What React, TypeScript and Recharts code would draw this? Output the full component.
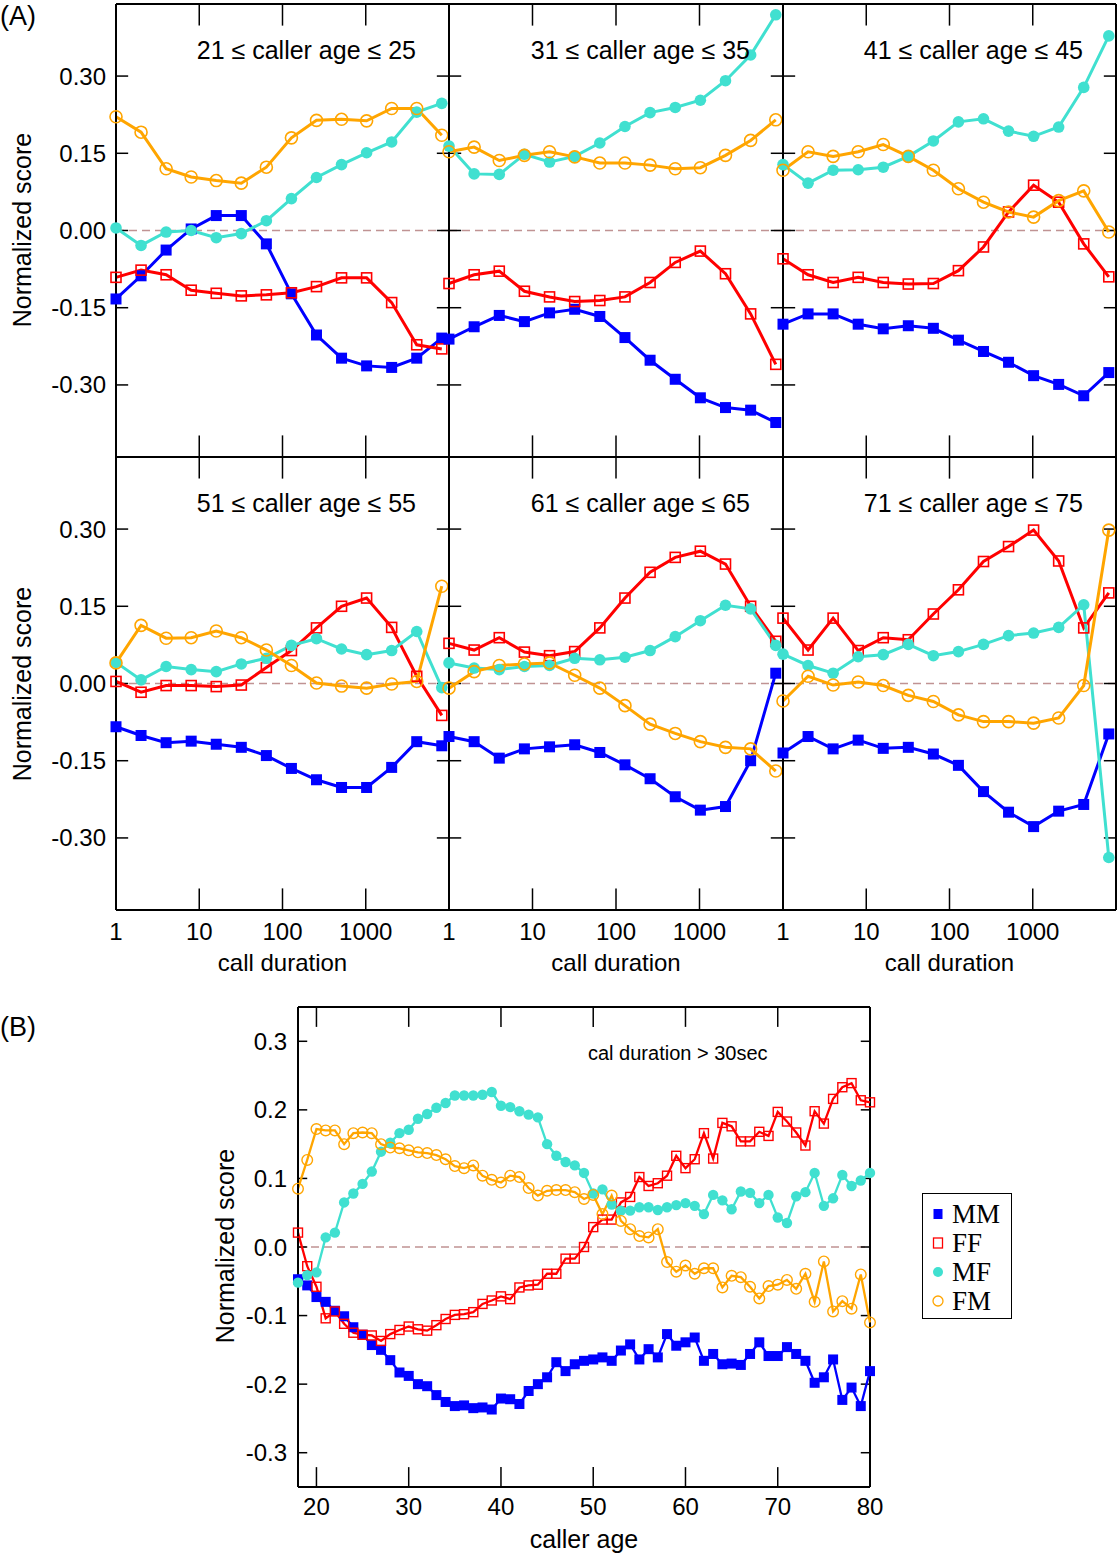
import React from 'react';
import { LineChart, Line, XAxis, YAxis, ReferenceLine } from 'recharts';

// call durations (seconds), log-spaced bins
const durations = [1, 2, 4, 8, 16, 32, 64, 128, 256, 512, 1024, 2048, 4096, 8192];

// 21 <= age <= 25
const mm21 = [-0.133, -0.088, -0.038, 0.003, 0.029, 0.029, -0.026, -0.123, -0.203, -0.248, -0.263, -0.266, -0.248, -0.209];
const ff21 = [-0.091, -0.077, -0.086, -0.116, -0.122, -0.127, -0.125, -0.121, -0.109, -0.092, -0.092, -0.14, -0.222, -0.23];
const mf21 = [0.005, -0.029, -0.003, 0.0, -0.014, -0.006, 0.019, 0.062, 0.103, 0.128, 0.151, 0.172, 0.23, 0.247];
const fm21 = [0.221, 0.191, 0.12, 0.104, 0.097, 0.092, 0.123, 0.18, 0.214, 0.216, 0.213, 0.237, 0.237, 0.185];

// 31 <= age <= 35
const mm31 = [-0.211, -0.187, -0.165, -0.177, -0.16, -0.153, -0.167, -0.208, -0.252, -0.289, -0.325, -0.344, -0.349, -0.373];
const ff31 = [-0.103, -0.086, -0.079, -0.118, -0.129, -0.138, -0.136, -0.129, -0.101, -0.062, -0.04, -0.084, -0.162, -0.26];
const mf31 = [0.164, 0.11, 0.109, 0.148, 0.133, 0.144, 0.17, 0.202, 0.229, 0.239, 0.253, 0.291, 0.341, 0.419];
const fm31 = [0.153, 0.162, 0.136, 0.146, 0.153, 0.143, 0.131, 0.131, 0.127, 0.12, 0.122, 0.146, 0.175, 0.215];

// 41 <= age <= 45
const mm41 = [-0.182, -0.162, -0.162, -0.182, -0.191, -0.185, -0.19, -0.213, -0.235, -0.256, -0.282, -0.299, -0.321, -0.276];
const ff41 = [-0.055, -0.086, -0.101, -0.091, -0.101, -0.104, -0.103, -0.078, -0.032, 0.036, 0.088, 0.055, -0.026, -0.09];
const mf41 = [0.128, 0.092, 0.117, 0.118, 0.123, 0.144, 0.174, 0.211, 0.217, 0.193, 0.183, 0.201, 0.278, 0.378];
const fm41 = [0.117, 0.153, 0.144, 0.153, 0.167, 0.144, 0.117, 0.081, 0.055, 0.036, 0.026, 0.058, 0.077, -0.003];

// 51 <= age <= 55
const mm51 = [-0.084, -0.101, -0.115, -0.112, -0.118, -0.124, -0.14, -0.165, -0.187, -0.202, -0.202, -0.163, -0.113, -0.121];
const ff51 = [0.004, -0.017, -0.004, -0.004, -0.006, -0.003, 0.031, 0.064, 0.108, 0.15, 0.166, 0.109, 0.014, -0.062];
const mf51 = [0.041, 0.007, 0.033, 0.027, 0.023, 0.038, 0.049, 0.074, 0.087, 0.067, 0.056, 0.064, 0.101, -0.008];
const fm51 = [0.04, 0.113, 0.088, 0.089, 0.102, 0.089, 0.065, 0.035, 0.001, -0.005, -0.009, -0.001, 0.004, 0.189];

// 61 <= age <= 65
const mm61 = [-0.103, -0.113, -0.145, -0.127, -0.123, -0.119, -0.134, -0.158, -0.185, -0.22, -0.246, -0.239, -0.15, 0.02];
const ff61 = [0.078, 0.065, 0.089, 0.061, 0.054, 0.062, 0.108, 0.166, 0.216, 0.245, 0.257, 0.232, 0.15, 0.082];
const mf61 = [0.04, 0.03, 0.027, 0.033, 0.035, 0.049, 0.046, 0.051, 0.064, 0.091, 0.122, 0.152, 0.145, 0.074];
const fm61 = [-0.009, 0.023, 0.035, 0.038, 0.04, 0.016, -0.009, -0.043, -0.079, -0.097, -0.113, -0.124, -0.127, -0.17];

// 71 <= age <= 75
const mm71 = [-0.135, -0.103, -0.127, -0.11, -0.126, -0.124, -0.137, -0.159, -0.21, -0.25, -0.278, -0.248, -0.235, -0.098];
const ff71 = [0.127, 0.065, 0.127, 0.064, 0.089, 0.085, 0.135, 0.182, 0.237, 0.266, 0.298, 0.238, 0.108, 0.176];
const mf71 = [0.057, 0.035, 0.02, 0.052, 0.056, 0.076, 0.054, 0.062, 0.076, 0.093, 0.098, 0.109, 0.153, -0.338];
const fm71 = [-0.034, 0.014, -0.003, 0.003, -0.004, -0.023, -0.035, -0.061, -0.074, -0.074, -0.077, -0.067, -0.004, 0.298];

// panel B: caller age 18..80, call duration > 30 sec
const ages = [18, 19, 20, 21, 22, 23, 24, 25, 26, 27, 28, 29, 30, 31, 32, 33, 34, 35, 36, 37, 38, 39, 40,
  41, 42, 43, 44, 45, 46, 47, 48, 49, 50, 51, 52, 53, 54, 55, 56, 57, 58, 59, 60,
  61, 62, 63, 64, 65, 66, 67, 68, 69, 70, 71, 72, 73, 74, 75, 76, 77, 78, 79, 80];
const mmAge = [-0.047, -0.056, -0.073, -0.08, -0.093, -0.101, -0.117, -0.128, -0.143, -0.15, -0.165, -0.183, -0.188, -0.2, -0.203, -0.216, -0.226, -0.232, -0.231, -0.235, -0.234, -0.237, -0.221,
  -0.222, -0.229, -0.21, -0.2, -0.19, -0.168, -0.181, -0.171, -0.166, -0.164, -0.161, -0.166, -0.151, -0.142, -0.164, -0.149, -0.161, -0.127, -0.144, -0.139,
  -0.132, -0.166, -0.156, -0.171, -0.17, -0.172, -0.156, -0.139, -0.159, -0.159, -0.146, -0.156, -0.166, -0.198, -0.19, -0.164, -0.223, -0.205, -0.232, -0.181];
const ffAge = [0.021, -0.028, -0.058, -0.104, -0.094, -0.112, -0.125, -0.128, -0.129, -0.137, -0.127, -0.121, -0.116, -0.12, -0.122, -0.114, -0.105, -0.099, -0.098, -0.095, -0.083, -0.078, -0.072,
  -0.076, -0.059, -0.056, -0.055, -0.039, -0.039, -0.017, -0.017, 0.0, 0.029, 0.04, 0.04, 0.065, 0.073, 0.102, 0.089, 0.093, 0.104, 0.133, 0.115,
  0.128, 0.166, 0.129, 0.181, 0.176, 0.154, 0.154, 0.168, 0.162, 0.197, 0.183, 0.167, 0.148, 0.198, 0.18, 0.216, 0.233, 0.239, 0.214, 0.211];
const mfAge = [-0.052, -0.041, -0.037, 0.014, 0.021, 0.065, 0.078, 0.092, 0.11, 0.139, 0.152, 0.166, 0.171, 0.187, 0.194, 0.203, 0.21, 0.221, 0.221, 0.221, 0.222, 0.226, 0.206,
  0.204, 0.198, 0.193, 0.189, 0.15, 0.133, 0.124, 0.119, 0.108, 0.078, 0.084, 0.062, 0.053, 0.053, 0.058, 0.058, 0.054, 0.058, 0.061, 0.064,
  0.06, 0.048, 0.076, 0.068, 0.055, 0.081, 0.079, 0.064, 0.076, 0.043, 0.035, 0.074, 0.08, 0.108, 0.06, 0.071, 0.105, 0.089, 0.097, 0.108];
const fmAge = [0.085, 0.127, 0.172, 0.17, 0.17, 0.15, 0.166, 0.167, 0.166, 0.15, 0.145, 0.144, 0.141, 0.138, 0.137, 0.134, 0.128, 0.118, 0.115, 0.119, 0.104, 0.098, 0.094,
  0.104, 0.102, 0.086, 0.075, 0.082, 0.083, 0.083, 0.08, 0.07, 0.076, 0.048, 0.075, 0.038, 0.026, 0.016, 0.014, 0.026, -0.022, -0.036, -0.027,
  -0.039, -0.031, -0.031, -0.059, -0.042, -0.044, -0.058, -0.075, -0.057, -0.055, -0.048, -0.061, -0.039, -0.08, -0.021, -0.094, -0.079, -0.09, -0.04, -0.11];

const durationTicks = [1, 10, 100, 1000];
const innerDurationTicks = [10, 100, 1000];
const scoreTicks = [-0.3, -0.15, 0, 0.15, 0.3];
const ageTicks = [20, 30, 40, 50, 60, 70, 80];
const innerAgeTicks = [20, 30, 40, 50, 60, 70];
const ageScoreTicks = [-0.3, -0.2, -0.1, 0, 0.1, 0.2, 0.3];

const BLUE = '#0000ff';
const RED = '#ff0000';
const TURQ = '#40e0d0';
const ORANGE = '#ffa500';
const ZERO = '#c09393';
const FONT = "'Liberation Sans', Arial, Helvetica, sans-serif";

type DotProps = { cx?: number; cy?: number; index?: number };

const squareDot = (size: number, fill: string, stroke: string, sw: number) => (p: DotProps) => {
  if (p.cx == null || p.cy == null) return <g key={`s${p.index}`} />;
  return (
    <rect key={`s${p.index}`} x={p.cx - size / 2} y={p.cy - size / 2} width={size} height={size}
      fill={fill} stroke={stroke} strokeWidth={sw} />
  );
};

const circleDot = (r: number, fill: string, stroke: string, sw: number) => (p: DotProps) => {
  if (p.cx == null || p.cy == null) return <g key={`c${p.index}`} />;
  return <circle key={`c${p.index}`} cx={p.cx} cy={p.cy} r={r} fill={fill} stroke={stroke} strokeWidth={sw} />;
};

// tick label only (tick marks are drawn inward with reference segments)
const tickText = (side: 'left' | 'bottom', fmt: ((v: number) => string) | null) => (p: any) => {
  const { x, y, payload, index } = p;
  if (!fmt) return <g key={`t${index}`} />;
  return (
    <text key={`t${index}`} x={x} y={y} dy={side === 'bottom' ? '0.71em' : '0.355em'}
      textAnchor={side === 'left' ? 'end' : 'middle'} fontSize={24} fontFamily={FONT} fill="#000">
      {fmt(payload.value)}
    </text>
  );
};

const axisLine = { stroke: '#000', strokeWidth: 2 };
const fmt2 = (v: number) => v.toFixed(2);
const fmt1 = (v: number) => v.toFixed(1);
const fmtInt = (v: number) => String(v);

// frame (top + right) and inward tick marks on all four sides
type Frame = {
  x0: number; x1: number; y0: number; y1: number;
  xTicks: number[]; yTicks: number[];
  xLen: number; // vertical tick length in y units
  yLen: (x: number, fromRight: boolean) => number; // end x of a horizontal tick
};
function frameMarks(f: Frame) {
  const k = { stroke: '#000', strokeWidth: 1.5, ifOverflow: 'visible' as const };
  const out: React.ReactNode[] = [
    <ReferenceLine key="ftop" y={f.y1} stroke="#000" strokeWidth={2} ifOverflow="visible" />,
    <ReferenceLine key="fright" x={f.x1} stroke="#000" strokeWidth={2} ifOverflow="visible" />,
  ];
  f.xTicks.forEach((t) => {
    out.push(<ReferenceLine key={`b${t}`} {...k} segment={[{ x: t, y: f.y0 }, { x: t, y: f.y0 + f.xLen }]} />);
    out.push(<ReferenceLine key={`t${t}`} {...k} segment={[{ x: t, y: f.y1 }, { x: t, y: f.y1 - f.xLen }]} />);
  });
  f.yTicks.forEach((t) => {
    out.push(<ReferenceLine key={`l${t}`} {...k} segment={[{ x: f.x0, y: t }, { x: f.yLen(f.x0, false), y: t }]} />);
    out.push(<ReferenceLine key={`r${t}`} {...k} segment={[{ x: f.x1, y: t }, { x: f.yLen(f.x1, true), y: t }]} />);
  });
  return out;
}

const panels = [
  { row: 0, col: 0, lo: 21, hi: 25, mm: mm21, ff: ff21, mf: mf21, fm: fm21 },
  { row: 0, col: 1, lo: 31, hi: 35, mm: mm31, ff: ff31, mf: mf31, fm: fm31 },
  { row: 0, col: 2, lo: 41, hi: 45, mm: mm41, ff: ff41, mf: mf41, fm: fm41 },
  { row: 1, col: 0, lo: 51, hi: 55, mm: mm51, ff: ff51, mf: mf51, fm: fm51 },
  { row: 1, col: 1, lo: 61, hi: 65, mm: mm61, ff: ff61, mf: mf61, fm: fm61 },
  { row: 1, col: 2, lo: 71, hi: 75, mm: mm71, ff: ff71, mf: mf71, fm: fm71 },
];

const plotLefts = [116, 449, 783];
const plotWidths = [333, 334, 333];
const plotTops = [4, 457];
const PLOT_H = 453;

const durationFrame: Frame = {
  x0: 1, x1: 10000, y0: -0.44, y1: 0.44,
  xTicks: innerDurationTicks, yTicks: scoreTicks,
  xLen: 0.042,
  yLen: (x, fromRight) => (fromRight ? x / 1.4 : x * 1.4),
};

const ageFrame: Frame = {
  x0: 18, x1: 80, y0: -0.35, y1: 0.35,
  xTicks: innerAgeTicks, yTicks: ageScoreTicks,
  xLen: 0.029,
  yLen: (x, fromRight) => (fromRight ? x - 1 : x + 1),
};

function DurationPanel({ row, col, lo, hi, mm, ff, mf, fm }: any) {
  const yw = col === 0 ? 116 : 40;
  const xh = row === 1 ? 60 : 2;
  const pw = plotWidths[col];
  const width = yw + pw + 3;
  const height = 4 + PLOT_H + xh;
  const data = durations.map((d, i) => ({ d, mm: mm[i], ff: ff[i], mf: mf[i], fm: fm[i] }));
  return (
    <div style={{ position: 'absolute', left: plotLefts[col] - yw, top: plotTops[row] - 4, width, height }}>
      <LineChart width={width} height={height} data={data} margin={{ top: 4, right: 3, left: 0, bottom: 0 }}>
        <XAxis dataKey="d" type="number" scale="log" domain={[1, 10000]} ticks={durationTicks}
          height={xh} tickSize={0} tickMargin={13} tickLine={false} axisLine={axisLine}
          tick={tickText('bottom', row === 1 ? fmtInt : null)} />
        <YAxis type="number" domain={[-0.44, 0.44]} ticks={scoreTicks} width={yw} tickSize={0} tickMargin={10}
          tickLine={false} axisLine={axisLine} tick={tickText('left', col === 0 ? fmt2 : null)} />
        <ReferenceLine y={0} stroke={ZERO} strokeWidth={1.5} strokeDasharray="8 5" />
        {frameMarks(durationFrame)}
        <Line dataKey="mm" stroke={BLUE} strokeWidth={3} dot={squareDot(11, BLUE, 'none', 0)} activeDot={false} isAnimationActive={false} />
        <Line dataKey="ff" stroke={RED} strokeWidth={3} dot={squareDot(10, 'none', RED, 1.6)} activeDot={false} isAnimationActive={false} />
        <Line dataKey="mf" stroke={TURQ} strokeWidth={3} dot={circleDot(5.8, TURQ, 'none', 0)} activeDot={false} isAnimationActive={false} />
        <Line dataKey="fm" stroke={ORANGE} strokeWidth={3} dot={circleDot(6, 'none', ORANGE, 1.6)} activeDot={false} isAnimationActive={false} />
      </LineChart>
      <div style={{ position: 'absolute', right: width - (yw + pw - 33), top: 38, fontFamily: FONT, fontSize: 25,
        lineHeight: '25px', whiteSpace: 'nowrap', color: '#000' }}>
        {lo} ≤ caller age ≤ {hi}
      </div>
      {row === 1 && (
        <div style={{ position: 'absolute', left: yw, width: pw, top: 498, textAlign: 'center', fontFamily: FONT,
          fontSize: 24, lineHeight: '24px', color: '#000' }}>
          call duration
        </div>
      )}
    </div>
  );
}

function VLabel({ cx, cy, text }: { cx: number; cy: number; text: string }) {
  return (
    <div style={{ position: 'absolute', left: cx - 130, top: cy - 13, width: 260, textAlign: 'center',
      transform: 'rotate(-90deg)', fontFamily: FONT, fontSize: 25, lineHeight: '26px', color: '#000' }}>
      {text}
    </div>
  );
}

const legendItems = [
  { name: 'MM', kind: 'sq', fill: BLUE, stroke: 'none' },
  { name: 'FF', kind: 'sq', fill: 'none', stroke: RED },
  { name: 'MF', kind: 'ci', fill: TURQ, stroke: 'none' },
  { name: 'FM', kind: 'ci', fill: 'none', stroke: ORANGE },
];

function AgeLegend() {
  return (
    <div style={{ position: 'absolute', left: 922, top: 1193, width: 88, height: 124, border: '1.5px solid #000',
      background: '#fff' }}>
      {legendItems.map((it, i) => (
        <div key={it.name} style={{ position: 'absolute', left: 8, top: 6 + i * 29, height: 28, display: 'flex',
          alignItems: 'center' }}>
          <svg width={14} height={14} style={{ marginRight: 7 }}>
            {it.kind === 'sq'
              ? <rect x={2.5} y={2} width={9} height={10} fill={it.fill} stroke={it.stroke} strokeWidth={1.3} />
              : <circle cx={7} cy={7} r={5} fill={it.fill} stroke={it.stroke} strokeWidth={1.3} />}
          </svg>
          <span style={{ fontFamily: "'Liberation Serif', 'Times New Roman', serif", fontSize: 27, lineHeight: '28px' }}>
            {it.name}
          </span>
        </div>
      ))}
    </div>
  );
}

function AgePanel() {
  const data = ages.map((a, i) => ({ a, mm: mmAge[i], ff: ffAge[i], mf: mfAge[i], fm: fmAge[i] }));
  return (
    <div style={{ position: 'absolute', left: 0, top: 990, width: 1118, height: 564 }}>
      <LineChart width={1118} height={564} data={data} margin={{ top: 17, right: 248, left: 0, bottom: 0 }}>
        <XAxis dataKey="a" type="number" domain={[18, 80]} ticks={ageTicks} height={67} tickSize={0} tickMargin={11}
          tickLine={false} axisLine={axisLine} tick={tickText('bottom', fmtInt)} />
        <YAxis type="number" domain={[-0.35, 0.35]} ticks={ageScoreTicks} width={298} tickSize={0} tickMargin={11}
          tickLine={false} axisLine={axisLine} tick={tickText('left', fmt1)} />
        <ReferenceLine y={0} stroke={ZERO} strokeWidth={1.5} strokeDasharray="8 5" />
        {frameMarks(ageFrame)}
        <Line dataKey="mm" stroke={BLUE} strokeWidth={2.3} dot={squareDot(10, BLUE, 'none', 0)} activeDot={false} isAnimationActive={false} />
        <Line dataKey="ff" stroke={RED} strokeWidth={2.3} dot={squareDot(9, 'none', RED, 1.4)} activeDot={false} isAnimationActive={false} />
        <Line dataKey="mf" stroke={TURQ} strokeWidth={2.3} dot={circleDot(5.2, TURQ, 'none', 0)} activeDot={false} isAnimationActive={false} />
        <Line dataKey="fm" stroke={ORANGE} strokeWidth={2.3} dot={circleDot(5.3, 'none', ORANGE, 1.4)} activeDot={false} isAnimationActive={false} />
      </LineChart>
    </div>
  );
}

export default function App() {
  return (
    <div style={{ position: 'absolute', left: 0, top: 0, width: 1118, height: 1554, background: '#fff', overflow: 'hidden' }}>
      {panels.map((p) => <DurationPanel key={`${p.row}-${p.col}`} {...p} />)}
      <AgePanel />
      <AgeLegend />
      <VLabel cx={22} cy={230} text="Normalized score" />
      <VLabel cx={22} cy={684} text="Normalized score" />
      <VLabel cx={225} cy={1246} text="Normalized score" />
      <div style={{ position: 'absolute', left: 0, top: 2, fontFamily: FONT, fontSize: 27, lineHeight: '28px' }}>(A)</div>
      <div style={{ position: 'absolute', left: 0, top: 1013, fontFamily: FONT, fontSize: 27, lineHeight: '28px' }}>(B)</div>
      <div style={{ position: 'absolute', left: 588, top: 1042, fontFamily: FONT, fontSize: 20, lineHeight: '22px',
        whiteSpace: 'nowrap' }}>cal duration &gt; 30sec</div>
      <div style={{ position: 'absolute', left: 298, width: 572, top: 1526, textAlign: 'center', fontFamily: FONT,
        fontSize: 25, lineHeight: '26px' }}>caller age</div>
    </div>
  );
}
